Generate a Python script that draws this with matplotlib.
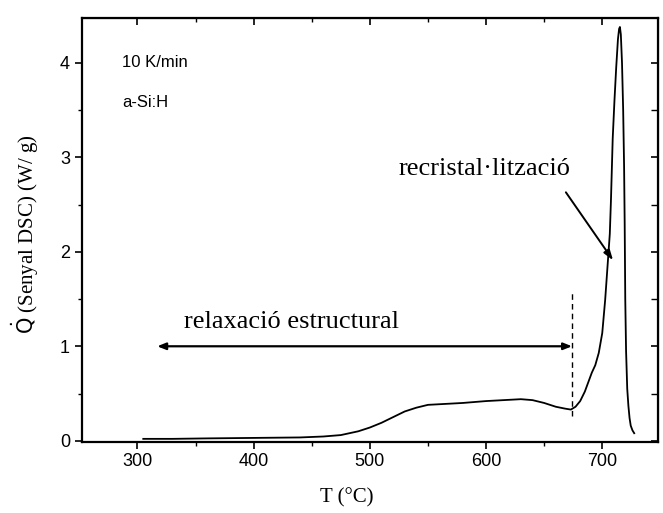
import matplotlib
matplotlib.use("Agg")
import matplotlib.pyplot as plt
from matplotlib.ticker import MultipleLocator

# Data
temperature = [305, 330, 360, 400, 440, 460, 475, 490, 500, 510, 520, 530, 540, 550,
               565, 580, 600, 615, 630, 640, 650, 660, 668, 673, 677, 681, 685, 688,
               691, 694, 697, 700, 702.5, 704.5, 706.5, 707.5, 709, 710.5, 712, 713.5,
               714.5, 715.2, 716, 717, 718, 718.8, 719.3, 719.8, 720.5, 721.5, 722.5,
               723.5, 724.5, 726, 727.5]
heat_flow = [0.02, 0.02, 0.025, 0.03, 0.035, 0.045, 0.06, 0.10, 0.14, 0.19, 0.25, 0.31,
             0.35, 0.38, 0.39, 0.40, 0.42, 0.43, 0.44, 0.43, 0.40, 0.36, 0.34, 0.33,
             0.36, 0.42, 0.52, 0.62, 0.72, 0.80, 0.93, 1.14, 1.49, 1.84, 2.19, 2.55,
             3.20, 3.60, 3.95, 4.25, 4.36, 4.38, 4.30, 4.00, 3.50, 2.90, 2.30, 1.50,
             0.95, 0.55, 0.37, 0.24, 0.16, 0.11, 0.08]

x_ticks = [300, 400, 500, 600, 700]
y_ticks = [0, 1, 2, 3, 4]

relax_arrow_x = [317, 674]
relax_arrow_y = 1.0
dashed_x = 674
dashed_y = [0.26, 1.56]
recr_arrow_start = (668.7, 2.63)
recr_arrow_end = (709.3, 1.91)

fig = plt.figure(figsize=(6.63, 5.13), dpi=100)
ax = fig.add_axes([0.1232, 0.139, 0.8693, 0.825])

ax.plot(temperature, heat_flow, color="black", lw=1.3)

ax.set_xlim(252, 748)
ax.set_ylim(-0.01, 4.47)
ax.set_xticks(x_ticks)
ax.set_yticks(y_ticks)
ax.xaxis.set_minor_locator(MultipleLocator(50))
ax.yaxis.set_minor_locator(MultipleLocator(0.5))

for s in ax.spines.values():
    s.set_linewidth(1.6)

ax.tick_params(axis="both", which="major", direction="out", length=5, width=1.2,
               labelsize=13, colors="black")
ax.tick_params(axis="both", which="minor", direction="out", length=3, width=1.0)
for lab in ax.get_xticklabels() + ax.get_yticklabels():
    lab.set_family("Liberation Sans")

# mirrored axis ticks (inward) on top and right
axt = ax.secondary_xaxis("top")
axt.set_xticks(x_ticks)
axt.xaxis.set_minor_locator(MultipleLocator(50))
axt.tick_params(which="major", direction="in", length=5, width=1.2, labeltop=False)
axt.tick_params(which="minor", direction="in", length=3, width=1.0)
axt.set_xticklabels([])
axr = ax.secondary_yaxis("right")
axr.set_yticks(y_ticks)
axr.yaxis.set_minor_locator(MultipleLocator(0.5))
axr.tick_params(which="major", direction="in", length=5, width=1.2, labelright=False)
axr.tick_params(which="minor", direction="in", length=5, width=1.0)
axr.set_yticklabels([])

plt.rcParams["mathtext.fontset"] = "stix"
ax.set_ylabel(r"$\dot{\mathrm{Q}}$ (Senyal DSC) (W/ g)", family="Liberation Serif",
              fontsize=15)
ax.yaxis.set_label_coords(-0.071, 0.49)
ax.set_xlabel("T (\u00b0C)", family="Liberation Serif", fontsize=15)
ax.xaxis.set_label_coords(0.46, -0.11)

ax.text(287, 4.0, "10 K/min", family="Liberation Sans", fontsize=12, va="center")
ax.text(287, 3.58, "a-Si:H", family="Liberation Sans", fontsize=12, va="center")

ax.text(525, 2.88, "recristal\u00b7litzaci\u00f3", family="Liberation Serif",
        fontsize=19, va="center")
ax.text(340, 1.26, "relaxaci\u00f3 estructural", family="Liberation Serif",
        fontsize=19, va="center")

ax.annotate("", xy=(relax_arrow_x[1], relax_arrow_y), xytext=(relax_arrow_x[0], relax_arrow_y),
            arrowprops=dict(arrowstyle="<|-|>,head_length=0.5,head_width=0.2",
                            color="black", lw=1.6, shrinkA=0, shrinkB=0))
ax.plot([dashed_x, dashed_x], dashed_y, color="black", lw=1.0, ls=(0, (4, 3)))
ax.annotate("", xy=recr_arrow_end, xytext=recr_arrow_start,
            arrowprops=dict(arrowstyle="-|>,head_length=0.6,head_width=0.2",
                            color="black", lw=1.4, shrinkA=0, shrinkB=0))

fig.savefig("out.png", dpi=100)
